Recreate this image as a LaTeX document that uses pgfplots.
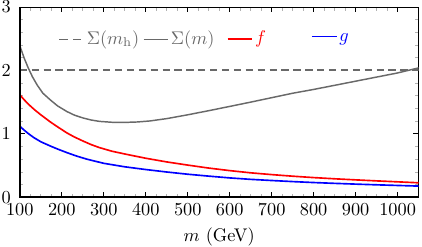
\documentclass[border=0pt]{standalone}
\usepackage{pgfplots}
\pgfplotsset{compat=1.18}
\definecolor{sgray}{RGB}{105,105,105}
\newcommand{\solident}[2]{\textcolor{#1}{\rule[2.1pt]{13.5pt}{0.85pt}\hspace{1.5pt}#2}}
\newcommand{\dashent}[2]{\textcolor{#1}{\rule[2.1pt]{4.5pt}{0.8pt}\hspace{3pt}\rule[2.1pt]{4.5pt}{0.8pt}\hspace{3pt}#2}}
\begin{document}
\begin{tikzpicture}
\begin{axis}[
  width=218pt, height=104pt, scale only axis,
  xmin=100, xmax=1050, ymin=0, ymax=3,
  xtick={100,200,...,1000}, ytick={0,1,2,3},
  /pgf/number format/1000 sep={},
  minor x tick num=3, minor y tick num=4,
  tick align=inside,
  major tick length=3pt, minor tick length=2pt,
  major tick style={black, thin},
  minor tick style={gray!60, thin},
  yticklabel style={inner xsep=0pt, inner ysep=0.6pt, xshift=-4.7pt},
  xlabel={$m$ (GeV)},
  xlabel style={inner sep=0pt, yshift=-3.3pt},
  axis line style={black, thin},
  legend columns=4,
  legend style={draw=none, fill=none, at={(0.080,0.833)}, anchor=west,
    nodes={inner xsep=1pt}},
  legend image code/.code={},
  after end axis/.code={\draw[line width=1pt,black] (rel axis cs:0,1) -- (rel axis cs:0,0) -- (rel axis cs:1,0);},
]
\addplot[color=sgray, line width=0.8pt, dash pattern=on 4pt off 2.5pt] coordinates {(100,2.01) (1050,2.01)};
\addlegendentry{\makebox[44pt][l]{\dashent{sgray}{$\Sigma(m_{\mathrm{h}})$}}}
\addplot[color=sgray, line width=0.8pt] coordinates {
(100,2.39) (110,2.20) (120,2.04) (130,1.90) (141.6,1.767) (155,1.64) (173,1.533)
(190,1.44) (212,1.352) (230,1.295) (251,1.249) (270,1.218) (290,1.196) (320,1.182)
(350,1.18) (380,1.187) (410,1.203) (450,1.24) (500,1.30) (550,1.365) (600,1.432)
(650,1.50) (700,1.57) (750,1.64) (800,1.70) (850,1.765) (900,1.83) (950,1.895)
(1000,1.96) (1050,2.04)};
\addlegendentry{\makebox[44pt][l]{\solident{sgray}{$\Sigma(m)$}}}
\addplot[color=red, line width=0.9pt] coordinates {
(100,1.615) (110,1.54) (120,1.47) (135,1.38) (150,1.30) (173,1.186) (190,1.11)
(212,1.015) (230,0.95) (251,0.885) (270,0.83) (290,0.782) (320,0.725) (353,0.678)
(400,0.615) (450,0.557) (500,0.507) (550,0.46) (600,0.42) (650,0.385) (700,0.357)
(750,0.332) (800,0.31) (850,0.291) (900,0.274) (950,0.258) (1000,0.243) (1050,0.228)};
\addlegendentry{\makebox[44pt][l]{\solident{red}{$f$}}}
\addplot[color=blue, line width=0.9pt] coordinates {
(100,1.12) (110,1.06) (120,1.005) (134,0.938) (150,0.875) (173,0.807) (190,0.76)
(212,0.704) (235,0.65) (260,0.60) (300,0.535) (350,0.48) (400,0.437) (450,0.398)
(500,0.363) (550,0.333) (600,0.305) (650,0.282) (700,0.264) (750,0.247) (800,0.232)
(850,0.219) (900,0.207) (950,0.196) (1000,0.186) (1050,0.176)};
\addlegendentry{\makebox[44pt][l]{\solident{blue}{$g$}}}
\end{axis}
\end{tikzpicture}
\end{document}
